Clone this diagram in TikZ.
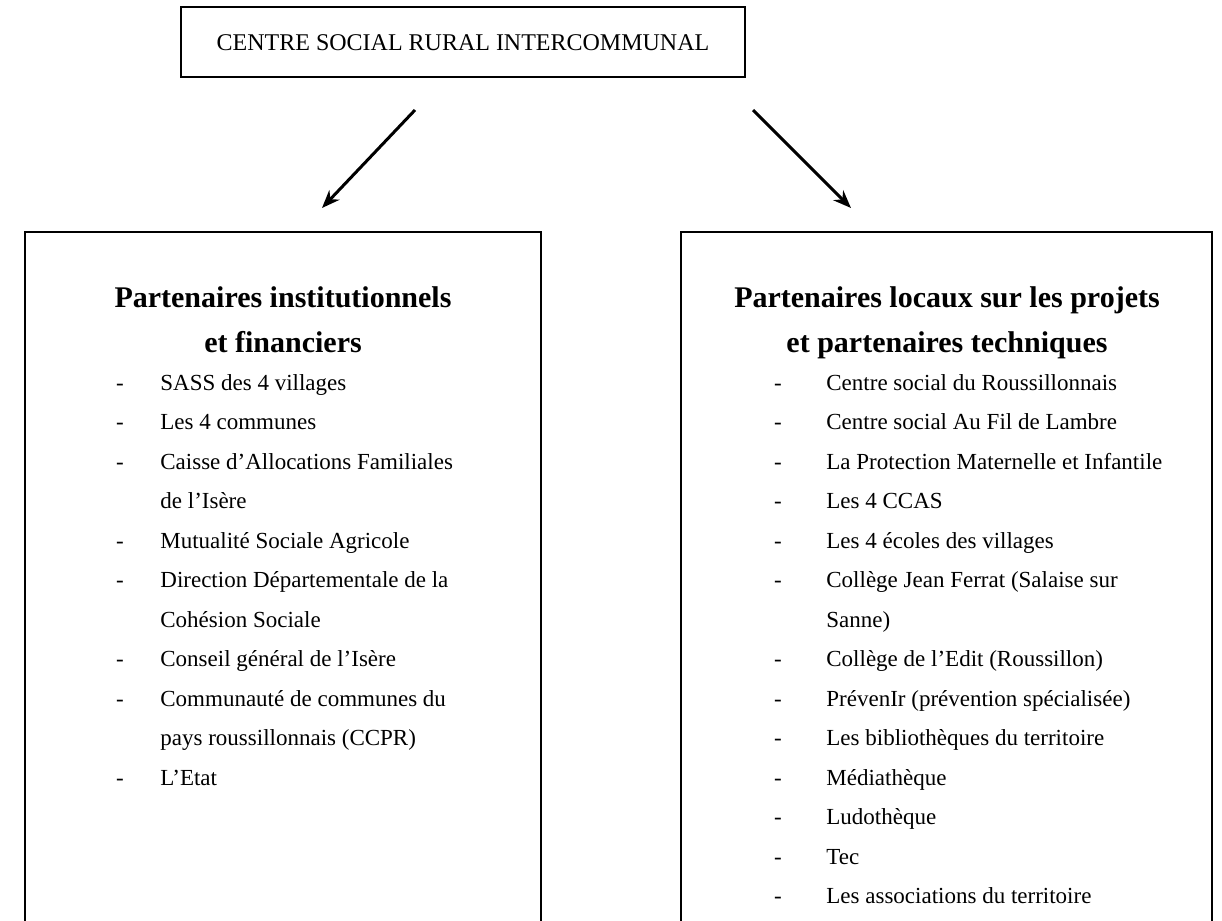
\documentclass[tikz,border=0pt]{standalone}
\usepackage{fontspec}
\setmainfont{Liberation Serif}
\usetikzlibrary{arrows.meta}

\begin{document}
\begin{tikzpicture}[x=0.5pt,y=-0.5pt]
		\useasboundingbox (0,0) rectangle (1222,921);
		\tikzset{
			titre/.style={font=\fontsize{12}{14}\selectfont,anchor=base},
			entete/.style={font=\fontsize{15}{18}\bfseries\selectfont,anchor=base},
			item/.style={font=\fontsize{11.5}{13}\selectfont,anchor=base west,inner sep=0pt},
			tiret/.style={font=\fontsize{11.5}{13}\selectfont,anchor=base,inner sep=0pt},
			fleche/.style={-{Stealth[length=9pt,width=7pt]},line width=1.5pt}
		}
		% top box
		\draw[line width=1pt] (181,7) rectangle (745,77);
		\node[titre] (csri) at (463,50) {CENTRE SOCIAL RURAL INTERCOMMUNAL};
		% arrows
		\coordinate (g1) at (415,110);
		\coordinate (g2) at (322,208);
		\coordinate (d1) at (753,110);
		\coordinate (d2) at (851,208);
		\draw[fleche] (g1) -- (g2);
		\draw[fleche] (d1) -- (d2);
		% left box
		\draw[line width=1pt] (25,921) -- (25,232) -- (541,232) -- (541,921);
		\node[entete] (inst1) at (283,307) {Partenaires institutionnels};
		\node[entete] (inst2) at (283,352) {et financiers};
		\foreach \d/\t [count=\i] in {1/SASS des 4 villages, 1/Les 4 communes,
			1/Caisse d’Allocations Familiales, 0/de l’Isère, 1/Mutualité Sociale Agricole,
			1/Direction Départementale de la, 0/Cohésion Sociale, 1/Conseil général de l’Isère,
			1/Communauté de communes du, 0/pays roussillonnais (CCPR), 1/L’Etat}
		{
			\node[item] (li\i) at (160,{390+39.5*(\i-1)}) {\t};
			\ifnum\d=1 \node[tiret] (ld\i) at (120,{390+39.5*(\i-1)}) {-}; \fi
		}
		% right box
		\draw[line width=1pt] (681,921) -- (681,232) -- (1212,232) -- (1212,921);
		\node[entete] (loc1) at (947,307) {Partenaires locaux sur les projets};
		\node[entete] (loc2) at (947,352) {et partenaires techniques};
		\foreach \d/\t [count=\i] in {1/Centre social du Roussillonnais, 1/Centre social Au Fil de Lambre,
			1/La Protection Maternelle et Infantile, 1/Les 4 CCAS, 1/Les 4 écoles des villages,
			1/Collège Jean Ferrat (Salaise sur, 0/Sanne), 1/Collège de l’Edit (Roussillon),
			1/PrévenIr (prévention spécialisée), 1/Les bibliothèques du territoire,
			1/Médiathèque, 1/Ludothèque, 1/Tec, 1/Les associations du territoire}
		{
			\node[item] (ri\i) at (826,{390+39.5*(\i-1)}) {\t};
			\ifnum\d=1 \node[tiret] (rd\i) at (778,{390+39.5*(\i-1)}) {-}; \fi
		}
	\end{tikzpicture}
\end{document}
